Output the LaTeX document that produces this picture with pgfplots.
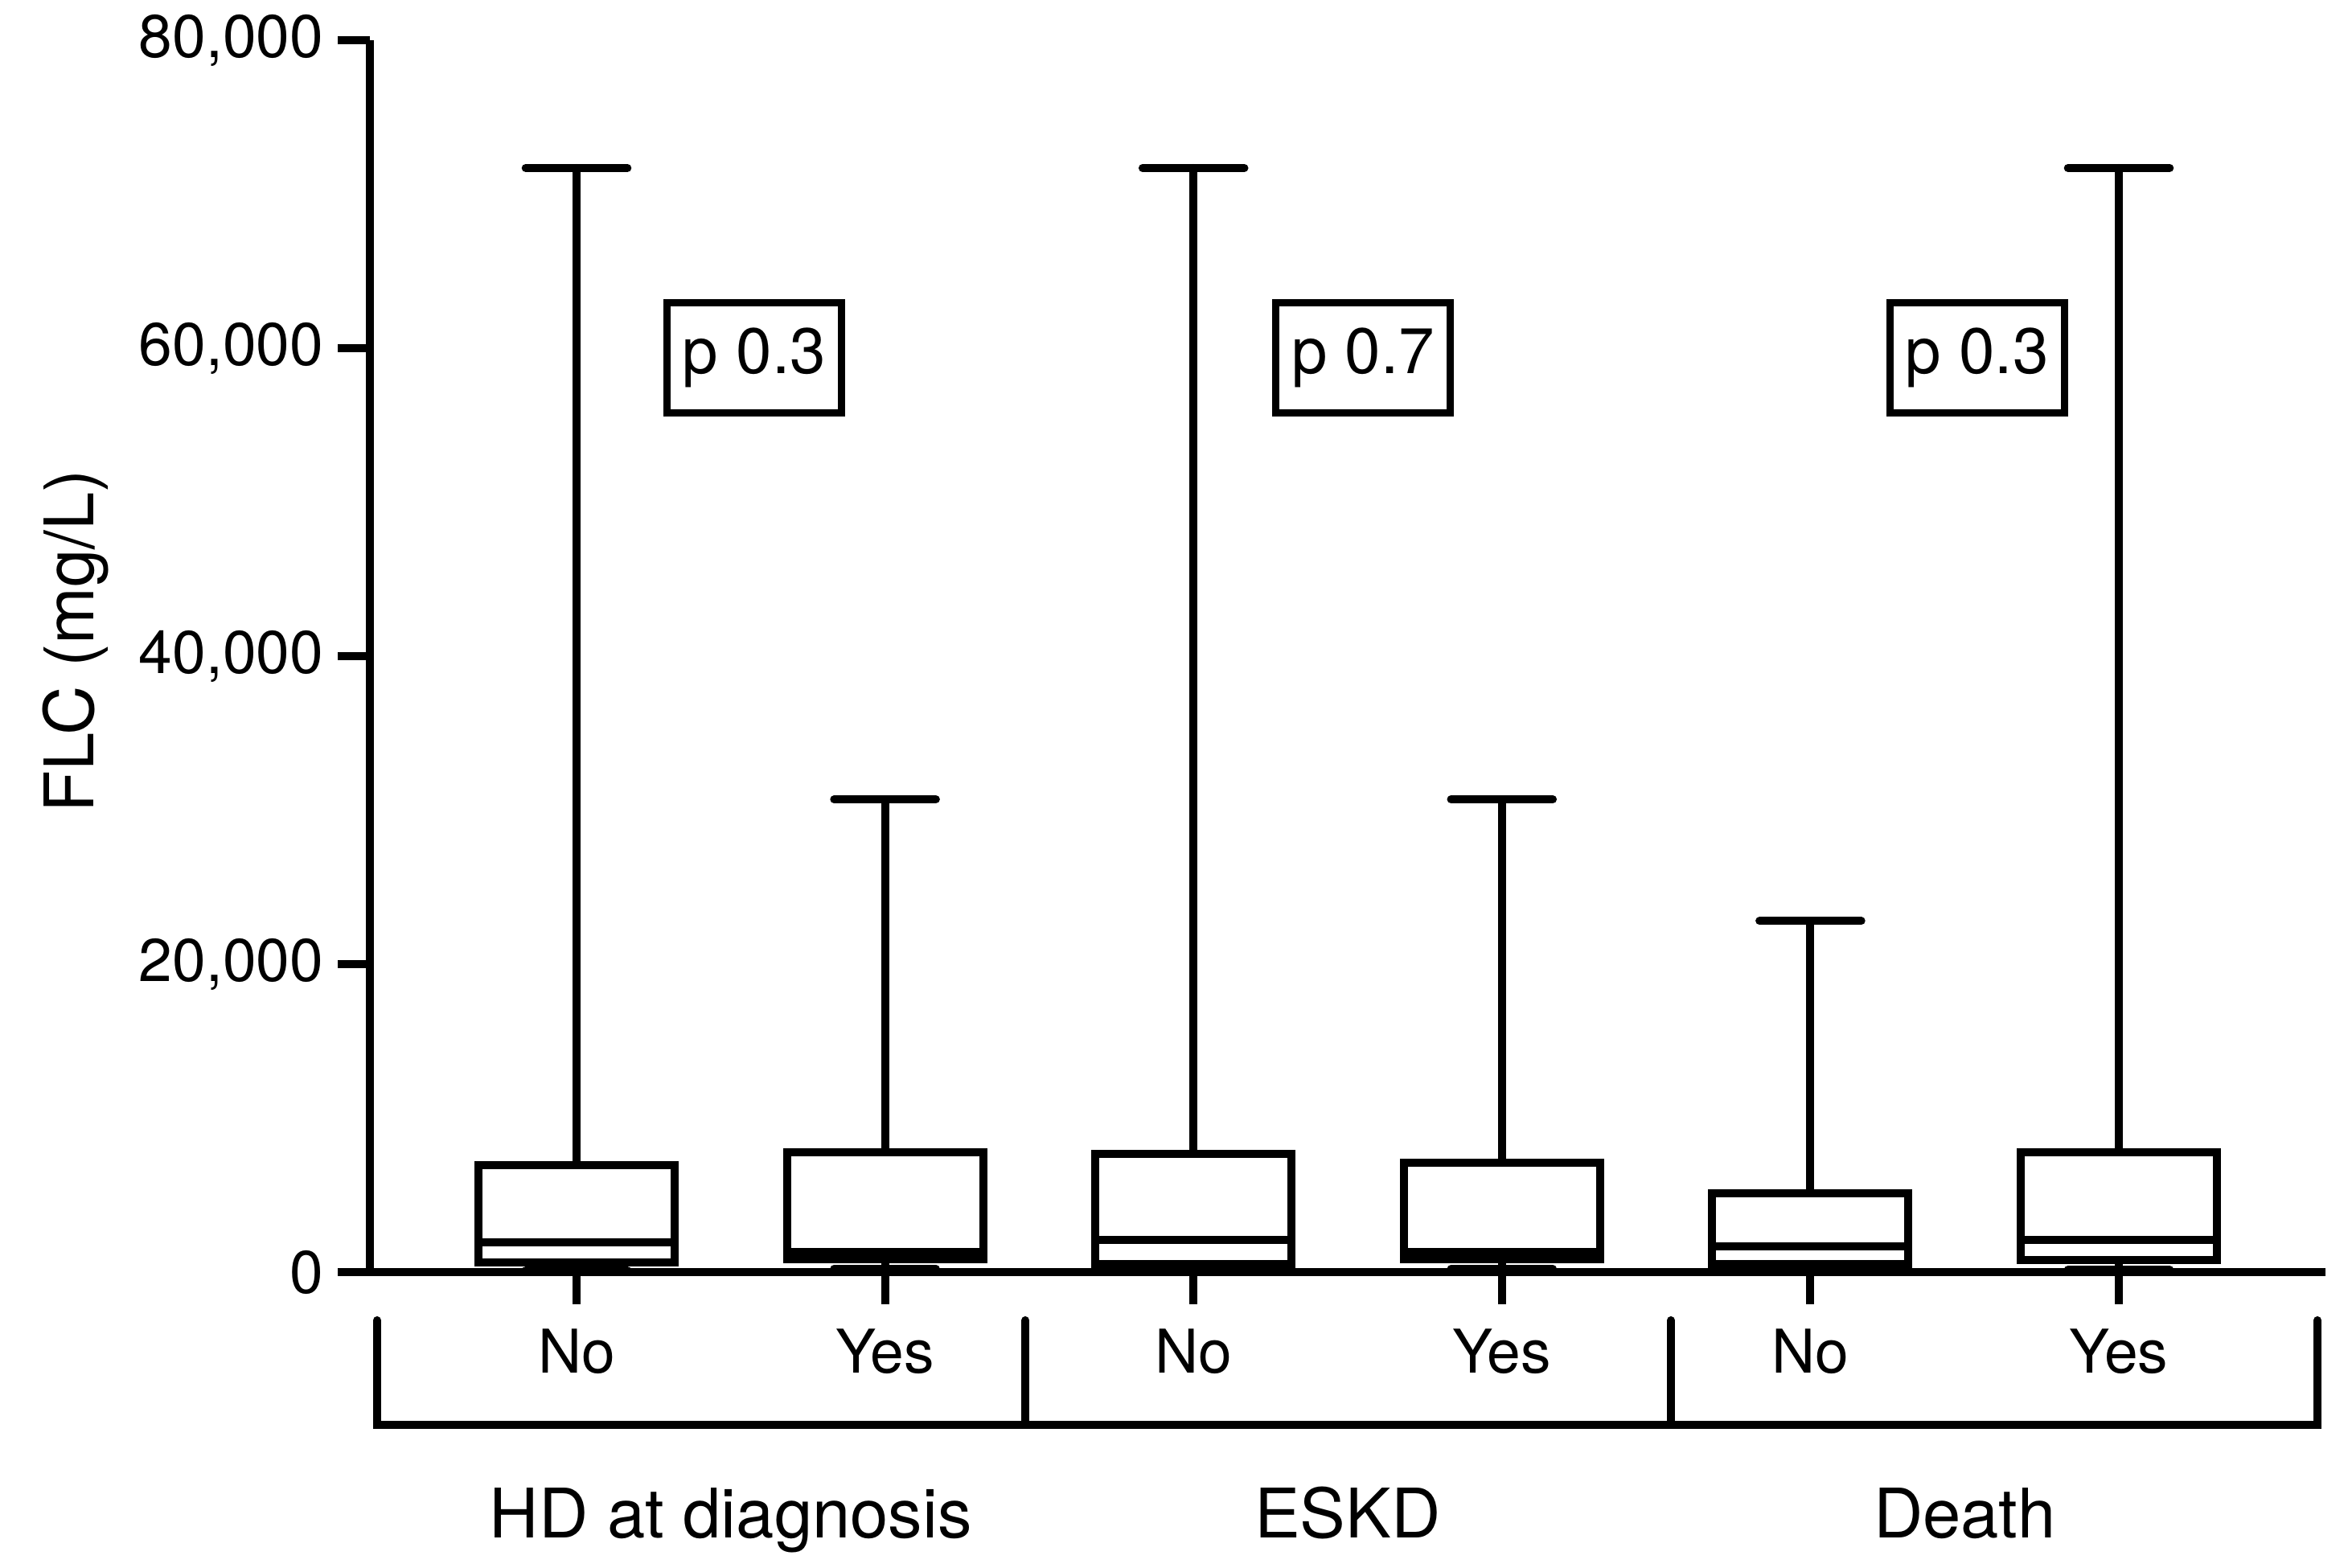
\documentclass[border=0pt]{standalone}
\usepackage{fontspec}
\setmainfont{TeX Gyre Heros}
\usepackage{pgfplots}
\pgfplotsset{compat=1.18}
\usepgfplotslibrary{statistics}
\begin{document}
\begin{tikzpicture}
% values in thousands of mg/L
\begin{axis}[
  at={(0,0)}, anchor=south west,
  scale only axis, width=486.4pt, height=306.4pt,
  xmin=0.33, xmax=6.67, ymin=0, ymax=80,
  axis x line*=bottom, axis y line*=left,
  axis line style={line width=2pt},
  tick style={black, line width=2pt},
  major tick length=8pt, tick align=outside,
  xtick={1,2,3,4,5,6}, xticklabels={No,Yes,No,Yes,No,Yes},
  ytick={0,20,40,60,80},
  yticklabels={0,{20,000},{40,000},{60,000},{80,000}},
  ticklabel style={font=\fontsize{15}{18}\selectfont},
  xticklabel style={anchor=base, yshift=-17.2pt},
  ylabel={FLC (mg/L)},
  ylabel style={font=\fontsize{17}{20}\selectfont, at={(axis description cs:0,0.5)}, anchor=center, xshift=3.8pt, yshift=73.2pt},
  clip=false,
  boxplot/draw direction=y,
  boxplot/every box/.style={line width=2pt},
  boxplot/every median/.style={line width=2pt},
  boxplot/every whisker/.style={line width=2pt, line cap=round},
]
\addplot[black, line width=2pt, boxplot prepared={draw position=1, lower whisker=0.10, lower quartile=0.61, median=1.93, upper quartile=6.95, upper whisker=71.7, box extend=0.636, whisker extend=0.33}, boxplot/draw direction=y] coordinates {};
\addplot[black, line width=2pt, boxplot prepared={draw position=2, lower whisker=0.22, lower quartile=0.83, median=1.31, upper quartile=7.78, upper whisker=30.7, box extend=0.636, whisker extend=0.33}, boxplot/draw direction=y] coordinates {};
\addplot[black, line width=2pt, boxplot prepared={draw position=3, lower whisker=0.10, lower quartile=0.52, median=2.10, upper quartile=7.70, upper whisker=71.7, box extend=0.636, whisker extend=0.33}, boxplot/draw direction=y] coordinates {};
\addplot[black, line width=2pt, boxplot prepared={draw position=4, lower whisker=0.20, lower quartile=0.83, median=1.31, upper quartile=7.10, upper whisker=30.7, box extend=0.636, whisker extend=0.33}, boxplot/draw direction=y] coordinates {};
\addplot[black, line width=2pt, boxplot prepared={draw position=5, lower whisker=0.10, lower quartile=0.52, median=1.69, upper quartile=5.12, upper whisker=22.8, box extend=0.636, whisker extend=0.33}, boxplot/draw direction=y] coordinates {};
\addplot[black, line width=2pt, boxplot prepared={draw position=6, lower whisker=0.15, lower quartile=0.78, median=2.09, upper quartile=7.79, upper whisker=71.7, box extend=0.636, whisker extend=0.33}, boxplot/draw direction=y] coordinates {};
% group brackets
\draw[line width=2pt, line cap=round, line join=miter] (0.353,-3.13) -- (0.353,-9.92) -- (6.644,-9.92) -- (6.644,-3.13);
\draw[line width=2pt, line cap=round] (2.455,-3.13) -- (2.455,-9.92);
\draw[line width=2pt, line cap=round] (4.548,-3.13) -- (4.548,-9.92);
\node[anchor=base, font=\fontsize{17}{20}\selectfont] at (1.5,-17.28) {HD at diagnosis};
\node[anchor=base, font=\fontsize{17}{20}\selectfont] at (3.5,-17.28) {ESKD};
\node[anchor=base, font=\fontsize{17}{20}\selectfont] at (5.5,-17.28) {Death};
% p-value boxes
\node[draw, line width=1.8pt, minimum width=43.4pt, minimum height=27.4pt, inner sep=0pt, font=\fontsize{16}{19}\selectfont] at (1.576,59.37) {p 0.3};
\node[draw, line width=1.8pt, minimum width=43.4pt, minimum height=27.4pt, inner sep=0pt, font=\fontsize{16}{19}\selectfont] at (3.55,59.37) {p 0.7};
\node[draw, line width=1.8pt, minimum width=43.4pt, minimum height=27.4pt, inner sep=0pt, font=\fontsize{16}{19}\selectfont] at (5.54,59.37) {p 0.3};
\end{axis}
\path (-92pt,-73.6pt) rectangle (492pt,316.4pt);
\end{tikzpicture}
\end{document}
